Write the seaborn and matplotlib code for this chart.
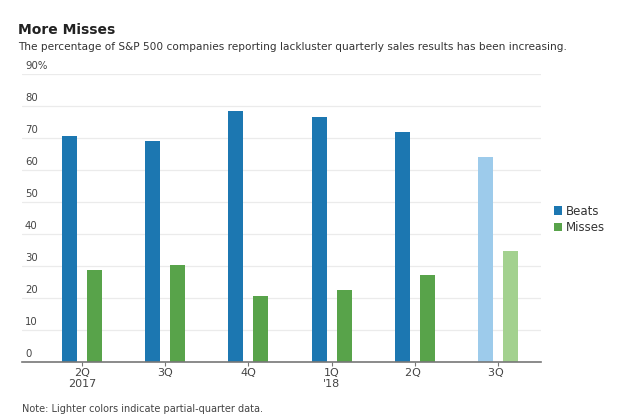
import matplotlib
matplotlib.use("Agg")
import matplotlib.pyplot as plt
import matplotlib.transforms as mtransforms
from matplotlib.patches import Patch
import seaborn as sns
import pandas as pd

quarters = ["2Q\n2017", "3Q", "4Q", "1Q\n'18", "2Q ", "3Q "]
beats = [70.5, 69.0, 78.5, 76.6, 72.0, 64.0]
misses = [28.8, 30.3, 20.6, 22.4, 27.2, 34.8]
partial = [False, False, False, False, False, True]
ytick_vals = [0, 10, 20, 30, 40, 50, 60, 70, 80, 90]
ytick_labels = ["0", "10", "20", "30", "40", "50", "60", "70", "80", "90%"]

c_beats, c_misses = "#1c77b1", "#58a34a"
c_beats_l, c_misses_l = "#9dcbeb", "#a3d18f"

sns.set_theme(style="white")
plt.rcParams["font.family"] = ["DejaVu Sans"]

df = pd.DataFrame({
    "quarter": quarters * 2,
    "value": beats + misses,
    "series": ["Beats"] * len(quarters) + ["Misses"] * len(quarters),
})

fig = plt.figure(figsize=(6.4, 4.15), dpi=100)
ax = fig.add_axes([22 / 640, 53 / 415, 519 / 640, 288 / 415])

sns.barplot(data=df, x="quarter", y="value", hue="series", order=quarters,
            hue_order=["Beats", "Misses"],
            palette={"Beats": c_beats, "Misses": c_misses},
            width=0.6, gap=0.4, saturation=1, errorbar=None, ax=ax, legend=False)

# lighter colours for partial quarters
for bar_container, light in zip(ax.containers, [c_beats_l, c_misses_l]):
    for patch, p in zip(bar_container.patches, partial):
        if p:
            patch.set_facecolor(light)
    for patch in bar_container.patches:
        patch.set_edgecolor("none")

ax.set_xlim(-0.721, 5.517)
ax.set_ylim(0, 90)
ax.set_xlabel("")
ax.set_ylabel("")

for s in ["top", "right", "left"]:
    ax.spines[s].set_visible(False)
ax.spines["bottom"].set_color("#777777")
ax.spines["bottom"].set_linewidth(1.2)

ax.set_yticks(ytick_vals)
ax.set_yticklabels([])
ax.tick_params(axis="y", length=0)
for v in ytick_vals[1:]:
    ax.axhline(v, color="#ebebeb", lw=0.9, zorder=0)
trans = mtransforms.blended_transform_factory(ax.transAxes, ax.transData)
for v, lab in zip(ytick_vals, ytick_labels):
    ax.text(3 / 519, v + 1.0, lab, transform=trans, ha="left", va="bottom",
            fontsize=7.3, color="#444444")

ax.set_xticks(range(len(quarters)))
ax.set_xticklabels(quarters, fontsize=8, color="#444444", linespacing=1.15)
ax.tick_params(axis="x", length=3, width=0.8, color="#777777", pad=1.5, bottom=True)

fig.text(18 / 640, 1 - 30 / 415, "More Misses", fontsize=10, fontweight="bold",
         color="#222222", va="center", ha="left")
fig.text(18 / 640, 1 - 47 / 415,
         "The percentage of S&P 500 companies reporting lackluster quarterly sales results has been increasing.",
         fontsize=7.6, color="#333333", va="center", ha="left")
fig.text(22 / 640, 1 - 409 / 415, "Note: Lighter colors indicate partial-quarter data.",
         fontsize=7, color="#444444", va="center", ha="left")

handles = [Patch(facecolor=c_beats, edgecolor="none", label="Beats"),
           Patch(facecolor=c_misses, edgecolor="none", label="Misses")]
fig.legend(handles=handles, loc="upper left", bbox_to_anchor=(549 / 640, 1 - 200 / 415),
           frameon=False, fontsize=8.5, handlelength=0.7, handleheight=0.7,
           handletextpad=0.35, labelspacing=0.3, borderaxespad=0, labelcolor="#333333")

fig.savefig("out.png", dpi=100)
